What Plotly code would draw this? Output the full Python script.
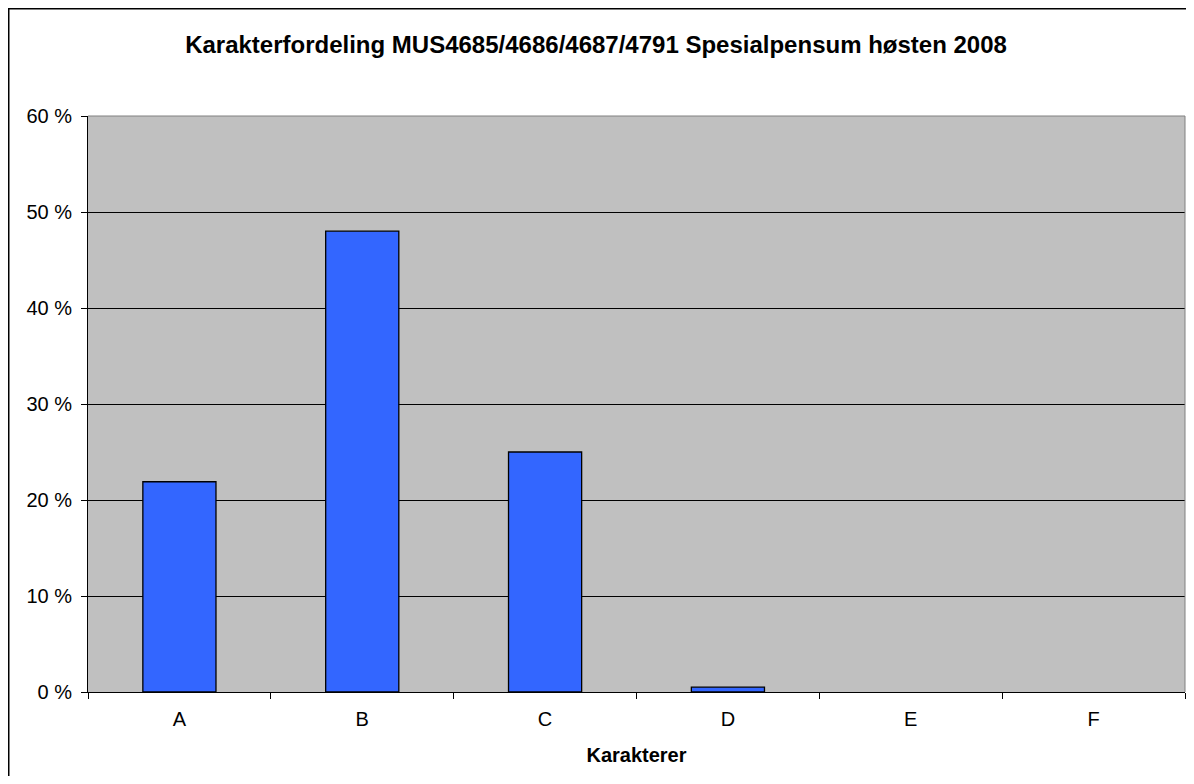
import plotly.graph_objects as go

categories = ["A", "B", "C", "D", "E", "F"]
percent = [21.9, 48.0, 25.0, 0.5, 0.0, 0.0]
y_ticks = [0, 10, 20, 30, 40, 50, 60]
y_tick_labels = [f"{v} %" for v in y_ticks]

# figure sits at an 8px body offset in the page
W, H = 1178, 768
L, R, T, B = 80, 1, 108, 84
pw, ph = W - L - R, H - T - B

fig = go.Figure(go.Bar(
    x=categories, y=percent,
    marker=dict(color="#3366FF",
                line=dict(color="#000000", width=[1.3, 1.3, 1.3, 1.3, 0, 0])),
    width=0.4,
))

fig.update_layout(
    width=W, height=H,
    margin=dict(l=L, r=R, t=T, b=B),
    paper_bgcolor="white",
    plot_bgcolor="#C0C0C0",
    font=dict(family="Liberation Sans, Arial", color="black", size=20),
    title=dict(text="<b>Karakterfordeling MUS4685/4686/4687/4791 Spesialpensum høsten 2008</b>",
               x=(596 - 8) / W, xanchor="center", y=1 - (45 - 8) / H, yanchor="middle",
               font=dict(size=24, family="Liberation Sans, Arial")),
    showlegend=False,
    bargap=0.6,
)

fig.update_xaxes(
    title=dict(text="<b>Karakterer</b>", font=dict(size=20), standoff=18),
    tickson="boundaries", ticks="outside", ticklen=6, tickcolor="black",
    showline=True, linecolor="black", linewidth=1,
    showgrid=False, tickfont=dict(size=20), range=[-0.5, 5.5],
    ticklabelstandoff=9,
)
fig.update_yaxes(
    range=[0, 60], tickvals=y_ticks, ticktext=y_tick_labels,
    ticks="outside", ticklen=6, tickcolor="black",
    showline=True, linecolor="black", linewidth=1,
    showgrid=True, gridcolor="black", gridwidth=1,
    zeroline=False, tickfont=dict(size=20), ticklabelstandoff=5,
)

# outer chart border (top/left visible; right/bottom beyond view)
fig.add_shape(type="rect", xref="paper", yref="paper",
              x0=(0.5 - L) / pw, x1=(W + 20 - L) / pw,
              y0=(H - B - (H + 20)) / ph, y1=(H - B - 0.5) / ph,
              line=dict(color="black", width=2), fillcolor="rgba(0,0,0,0)", layer="below")
# plot area right/top border
fig.add_shape(type="line", xref="paper", yref="paper", x0=1, x1=1, y0=0, y1=1,
              line=dict(color="#808080", width=1))
fig.add_shape(type="line", xref="paper", yref="paper", x0=0, x1=1, y0=1, y1=1,
              line=dict(color="#808080", width=1))

fig.write_html("out.html")
